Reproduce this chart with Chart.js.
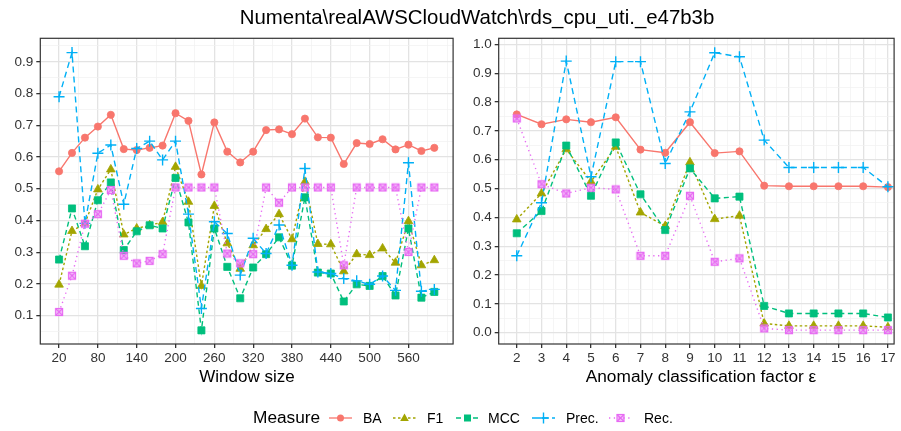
<!DOCTYPE html>
<html><head><meta charset="utf-8">
<script src="https://cdn.jsdelivr.net/npm/chart.js@4.4.0/dist/chart.umd.min.js"></script>
<style>
body{margin:0;background:#fff;width:901px;height:431px;overflow:hidden;position:relative;font-family:"Liberation Sans",Arial,Helvetica,sans-serif;color:#000}
#c1{position:absolute;left:0;top:0}
#c2{position:absolute;left:460px;top:0}
.t{position:absolute;white-space:nowrap;line-height:1}
</style></head><body>
<canvas id="c1" width="460" height="431"></canvas>
<canvas id="c2" width="441" height="431"></canvas>
<div class="t" style="left:477px;transform:translateX(-50%);top:7px;font-size:20.4px">Numenta\realAWSCloudWatch\rds_cpu_uti._e47b3b</div>
<div class="t" style="left:247px;transform:translateX(-50%);top:368px;font-size:17px">Window size</div>
<div class="t" style="left:701px;transform:translateX(-50%);top:368px;font-size:17.3px">Anomaly classification factor ε</div>
<div id="legend"></div>
<script>
// ---------------- data ----------------
const windowSizes = [20,40,60,80,100,120,140,160,180,200,220,240,260,280,300,320,340,360,380,400,420,440,460,480,500,520,540,560,580,600];
const baW   = [0.555,0.613,0.661,0.696,0.733,0.625,0.622,0.629,0.636,0.738,0.714,0.545,0.709,0.617,0.583,0.617,0.685,0.687,0.672,0.721,0.662,0.661,0.578,0.644,0.641,0.656,0.624,0.639,0.619,0.629];
const f1W   = [0.198,0.367,0.391,0.498,0.561,0.356,0.375,0.385,0.395,0.569,0.459,0.194,0.446,0.328,0.248,0.322,0.373,0.420,0.341,0.522,0.326,0.325,0.240,0.294,0.291,0.312,0.267,0.398,0.259,0.275];
const mccW  = [0.277,0.438,0.319,0.464,0.520,0.307,0.366,0.385,0.375,0.534,0.394,0.054,0.375,0.254,0.155,0.252,0.294,0.347,0.258,0.473,0.236,0.233,0.145,0.199,0.194,0.225,0.164,0.375,0.157,0.175];
const precW = [0.790,0.929,0.391,0.612,0.638,0.451,0.627,0.650,0.591,0.650,0.420,0.123,0.396,0.359,0.228,0.344,0.296,0.386,0.259,0.564,0.238,0.233,0.217,0.210,0.199,0.225,0.180,0.582,0.177,0.183];
const recW  = [0.112,0.226,0.390,0.420,0.496,0.289,0.265,0.273,0.294,0.504,0.504,0.504,0.504,0.296,0.265,0.294,0.504,0.456,0.504,0.504,0.504,0.504,0.259,0.504,0.504,0.504,0.504,0.301,0.504,0.504];

const factors = [2,3,4,5,6,7,8,9,10,11,12,13,14,15,16,17];
const baF   = [0.757,0.723,0.740,0.730,0.747,0.635,0.624,0.730,0.623,0.629,0.510,0.508,0.508,0.508,0.508,0.505];
const f1F   = [0.393,0.483,0.636,0.524,0.645,0.417,0.370,0.591,0.394,0.406,0.032,0.024,0.024,0.024,0.024,0.019];
const mccF  = [0.345,0.422,0.649,0.475,0.660,0.480,0.356,0.570,0.466,0.472,0.093,0.067,0.067,0.067,0.067,0.053];
const precF = [0.267,0.451,0.942,0.541,0.940,0.940,0.587,0.766,0.971,0.957,0.668,0.573,0.573,0.573,0.573,0.506];
const recF  = [0.743,0.515,0.483,0.503,0.497,0.267,0.267,0.475,0.246,0.258,0.015,0.009,0.009,0.009,0.009,0.009];

const measures = ['BA','F1','MCC','Prec.','Rec.'];
const windowTicks = [20,80,140,200,260,320,380,440,500,560];
const factorTicks = factors;
// -------------------------------------

const COL = {BA:'#F8766D',F1:'#A3A500',MCC:'#00BF7D','Prec.':'#00B0F6','Rec.':'#E76BF3'};

function recImg(){
  const c=document.createElement('canvas'); c.width=10; c.height=10;
  const g=c.getContext('2d');
  g.fillStyle='rgba(231,107,243,0.4)'; g.fillRect(1,1,8,8);
  g.strokeStyle='#E76BF3'; g.lineWidth=1.2; g.strokeRect(1.5,1.5,7,7);
  g.beginPath(); g.moveTo(1.5,1.5); g.lineTo(8.5,8.5); g.moveTo(8.5,1.5); g.lineTo(1.5,8.5); g.stroke();
  return c;
}
const REC = recImg();

const STY = {
  'BA':   {dash:[], pt:'circle', r:3.6, order:5},
  'F1':   {dash:[2.5,2.5], pt:'triangle', r:5, order:4},
  'MCC':  {dash:[5,3.5], pt:'rect', r:5, order:3},
  'Prec.':{dash:[6,4], pt:'cross', r:5.5, order:2},
  'Rec.': {dash:[1.3,3.5], pt:REC, r:5, order:1}
};

function mk(xs, arrs){
  return measures.map((m,i)=>({
    label:m,
    data: xs.map((x,j)=>({x:x,y:arrs[i][j]})),
    borderColor:COL[m], backgroundColor:COL[m],
    borderWidth:1.4, borderDash:STY[m].dash,
    pointStyle:STY[m].pt, pointRadius:STY[m].r,
    pointBorderWidth: m==='Prec.'?1.4:0.8,
    pointBorderColor:COL[m], pointBackgroundColor:COL[m],
    tension:0, fill:false, order:STY[m].order
  }));
}

const borderPlugin = {id:'pb', afterDraw(chart){
  const {ctx, chartArea:a} = chart;
  ctx.save(); ctx.strokeStyle='#333'; ctx.lineWidth=1.2;
  ctx.strokeRect(a.left, a.top, a.right-a.left, a.bottom-a.top); ctx.restore();
}};

const tickFont = {family:'"Liberation Sans", Arial, Helvetica, sans-serif', size:13.5};
const MAJ='#e3e3e3', MIN='#f1f1f1';

function axis(opts){
  const {min,max,all,isMajor,label,pos,fit} = opts;
  return {
    type:'linear', position:pos, min:min, max:max,
    afterBuildTicks: s => { s.ticks = all.map(v=>({value:v})); },
    afterFit: s => { if(pos==='left') s.width=fit; else s.height=fit; },
    border:{display:false},
    grid:{
      color: c => isMajor(c.tick.value)?MAJ:MIN,
      lineWidth: c => isMajor(c.tick.value)?1.3:0.7,
      tickColor: c => isMajor(c.tick.value)?'#333':'rgba(0,0,0,0)',
      tickLength:4, drawTicks:true
    },
    ticks:{
      autoSkip:false, maxRotation:0, minRotation:0, padding: pos==='left'?3:2,
      color:'#333', font:tickFont,
      callback: v => isMajor(v)?label(v):''
    }
  };
}

const range = (a,b,s) => { const r=[]; for(let v=a; v<=b+1e-9; v+=s) r.push(Math.round(v*1000)/1000); return r; };

// left chart
new Chart(document.getElementById('c1'), {
  type:'line',
  data:{datasets: mk(windowSizes,[baW,f1W,mccW,precW,recW])},
  options:{
    responsive:false, animation:false,
    layout:{padding:{left:0,right:6.7,top:38.3,bottom:67}},
    plugins:{legend:{display:false},tooltip:{enabled:false}},
    scales:{
      x: axis({min:-9,max:629,pos:'bottom',fit:20,
        all: range(20,620,30),
        isMajor: v => windowTicks.includes(Math.round(v)),
        label: v => String(Math.round(v))}),
      y: axis({min:0.011,max:0.974,pos:'left',fit:40.3,
        all: range(0.05,0.95,0.05),
        isMajor: v => Math.round(v*100)%10===0,
        label: v => v.toFixed(1)})
    }
  },
  plugins:[borderPlugin]
});

// right chart
new Chart(document.getElementById('c2'), {
  type:'line',
  data:{datasets: mk(factors,[baF,f1F,mccF,precF,recF])},
  options:{
    responsive:false, animation:false,
    layout:{padding:{left:0,right:2,top:38.3,bottom:67}},
    plugins:{legend:{display:false},tooltip:{enabled:false}},
    scales:{
      x: axis({min:1.27,max:17.25,pos:'bottom',fit:20,
        all: range(1.5,17,0.5),
        isMajor: v => factorTicks.includes(v),
        label: v => String(v)}),
      y: axis({min:-0.039,max:1.021,pos:'left',fit:38.7,
        all: range(0,1,0.05),
        isMajor: v => Math.round(v*100)%10===0,
        label: v => v.toFixed(1)})
    }
  },
  plugins:[borderPlugin]
});

// legend (HTML)
(function(){
  const L = document.getElementById('legend');
  let html = '<div class="t" style="left:253px;top:409px;font-size:17.3px">Measure</div>';
  const symX = {'BA':329,'F1':393,'MCC':456,'Prec.':532,'Rec.':609};
  const txtX = {'BA':363,'F1':427,'MCC':488,'Prec.':566,'Rec.':644};
  const dashes = {'BA':'', 'F1':'2.5 2.5','MCC':'5 3.5','Prec.':'6 4','Rec.':'1.3 3.5'};
  measures.forEach(m=>{
    const c = COL[m];
    let mark='';
    if(m==='BA') mark=`<circle cx="11.5" cy="7" r="3.5" fill="${c}"/>`;
    if(m==='F1') mark=`<polygon points="11.5,2.5 15.8,10 7.2,10" fill="${c}"/>`;
    if(m==='MCC') mark=`<rect x="8" y="3.5" width="7" height="7" fill="${c}"/>`;
    if(m==='Prec.') mark=`<path d="M6 7 H17 M11.5 1.5 V12.5" stroke="${c}" stroke-width="1.4"/>`;
    if(m==='Rec.') mark=`<rect x="8" y="3.5" width="7" height="7" fill="rgba(231,107,243,0.4)" stroke="${c}" stroke-width="1.2"/><path d="M8 3.5 L15 10.5 M15 3.5 L8 10.5" stroke="${c}" stroke-width="1.2"/>`;
    html += `<svg style="position:absolute;left:${symX[m]}px;top:411px" width="23" height="14"><line x1="0" y1="7" x2="23" y2="7" stroke="${c}" stroke-width="1.3" ${dashes[m]?`stroke-dasharray="${dashes[m]}"`:''}/>${mark}</svg>`;
    html += `<div class="t" style="left:${txtX[m]}px;top:411px;font-size:14px">${m}</div>`;
  });
  L.innerHTML = html;
})();
</script>
</body></html>
